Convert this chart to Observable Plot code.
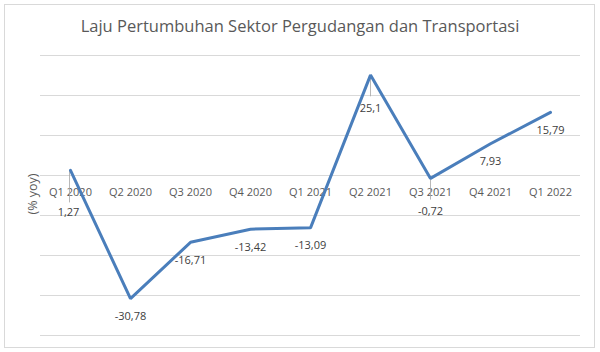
<!DOCTYPE html>
<html>
<head>
<meta charset="utf-8">
<script src="https://cdn.jsdelivr.net/npm/d3@7"></script>
<script src="https://cdn.jsdelivr.net/npm/@observablehq/plot@0.6"></script>
<style>
  html, body { margin: 0; padding: 0; background: #fff; }
  #wrap { position: relative; width: 600px; height: 352px; font-family: "Open Sans", sans-serif; }
  #box { position: absolute; left: 4px; top: 4px; width: 591px; height: 344px; border: 1px solid #d9d9d9; box-sizing: border-box; }
  #title { position: absolute; left: 0; width: 600px; top: 14px; text-align: center; font-size: 16.5px; color: #595959; }
  #ylab { position: absolute; left: 32px; top: 194px; transform: translate(-50%, -50%) rotate(-90deg); font-size: 12.5px; color: #595959; white-space: nowrap; }
  #chart { position: absolute; left: 0; top: 0; }
</style>
</head>
<body>
<div id="wrap">
  <div id="box"></div>
  <div id="chart"></div>
  <div id="title">Laju Pertumbuhan Sektor Pergudangan dan Transportasi</div>
  <div id="ylab">(% yoy)</div>
</div>
<script>
const categories = ["Q1 2020", "Q2 2020", "Q3 2020", "Q4 2020", "Q1 2021", "Q2 2021", "Q3 2021", "Q4 2021", "Q1 2022"];
const values = [1.27, -30.78, -16.71, -13.42, -13.09, 25.1, -0.72, 7.93, 15.79];
const valueLabels = ["1,27", "-30,78", "-16,71", "-13,42", "-13,09", "25,1", "-0,72", "7,93", "15,79"];
const gridTicks = [-40, -30, -20, -10, 0, 10, 20, 30];
const leaderLabels = ["Q1 2020", "Q2 2021", "Q3 2021"];

const data = categories.map((c, i) => ({cat: c, v: values[i], label: valueLabels[i], leader: leaderLabels.includes(c)}));
const plain = data.filter(d => !d.leader);
const leaders = data.filter(d => d.leader && d.cat !== "Q1 2020");
const firstLeader = data.filter(d => d.cat === "Q1 2020");

const chart = Plot.plot({
  width: 600,
  height: 352,
  marginLeft: 40,
  marginRight: 20,
  marginTop: 55,
  marginBottom: 17,
  style: {fontFamily: "'Open Sans', sans-serif", background: "transparent"},
  x: {type: "point", domain: categories, padding: 0.5, axis: null},
  y: {domain: [-40, 30], axis: null},
  marks: [
    Plot.ruleY(gridTicks, {stroke: "#d9d9d9", strokeWidth: 1.2}),
    Plot.text(categories, {x: d => d, y: () => 0, dy: 17, text: d => d, fill: "#595959", fontSize: 11}),
    Plot.link(leaders, {x1: "cat", x2: "cat", y1: "v", y2: d => d.v - 5.3, stroke: "#a6a6a6", strokeWidth: 0.8}),
    Plot.link(firstLeader, {x1: "cat", x2: "cat", y1: "v", y2: d => d.v - 8, dx: -1, stroke: "#a6a6a6", strokeWidth: 0.8}),
    Plot.line(data, {x: "cat", y: "v", stroke: "#4a7ebb", strokeWidth: 3, strokeLinejoin: "miter"}),
    Plot.text(plain, {x: "cat", y: "v", text: "label", dy: 18, fill: "#404040", fontSize: 11}),
    Plot.text(leaders, {x: "cat", y: "v", text: "label", dy: 33, fill: "#404040", fontSize: 11}),
    Plot.text(firstLeader, {x: "cat", y: "v", text: "label", dy: 42, dx: -2, fill: "#404040", fontSize: 11})
  ]
});
document.getElementById("chart").appendChild(chart);
</script>
</body>
</html>
